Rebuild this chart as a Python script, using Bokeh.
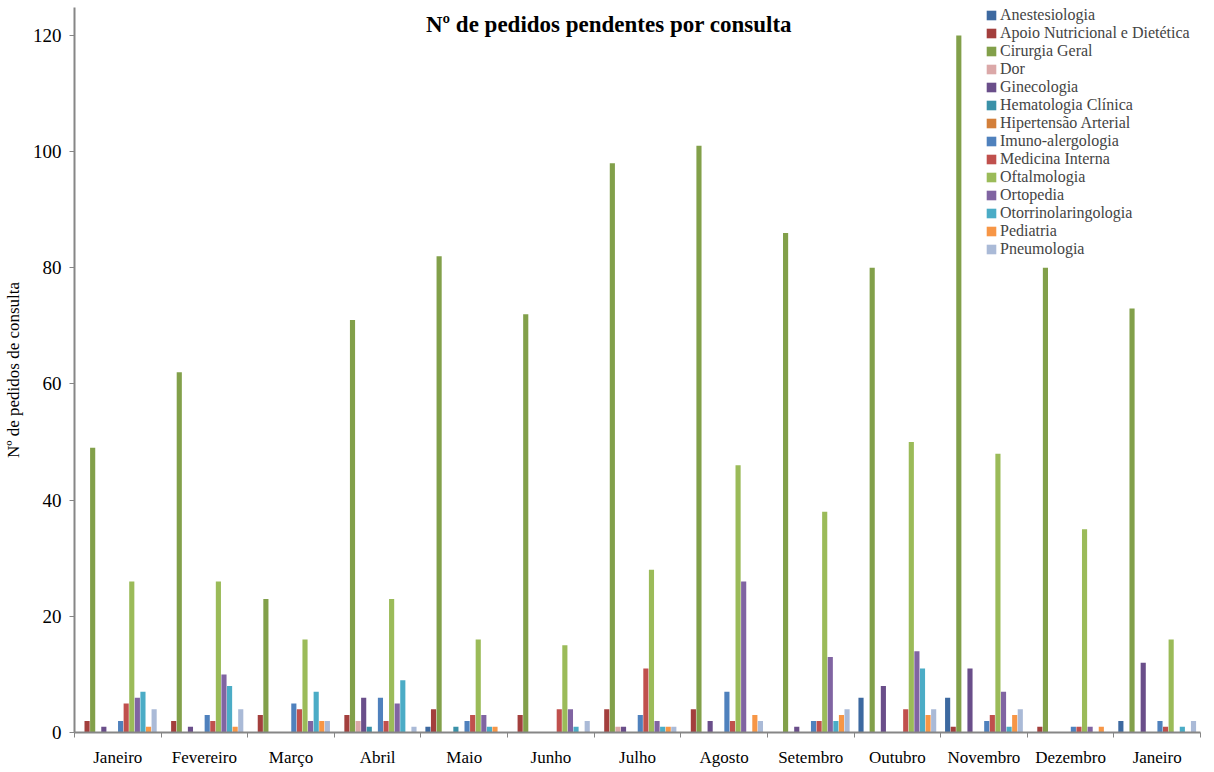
from bokeh.plotting import figure
from bokeh.models import ColumnDataSource, FixedTicker, Legend, LegendItem, Label
from bokeh.transform import dodge
from bokeh.embed import file_html
from bokeh.resources import INLINE

months = ["Janeiro", "Fevereiro", "Março", "Abril", "Maio", "Junho", "Julho",
          "Agosto", "Setembro", "Outubro", "Novembro", "Dezembro", "Janeiro"]

series = ["Anestesiologia", "Apoio Nutricional e Dietética", "Cirurgia Geral", "Dor",
          "Ginecologia", "Hematologia Clínica", "Hipertensão Arterial", "Imuno-alergologia",
          "Medicina Interna", "Oftalmologia", "Ortopedia", "Otorrinolaringologia",
          "Pediatria", "Pneumologia"]

colors = ["#3D69A0", "#A33F3D", "#82A04A", "#DBA8A8", "#6A4E8A", "#3A91A8", "#D37F3A",
          "#4F81BD", "#C0504D", "#9BBB59", "#8064A2", "#4BACC6", "#F79646", "#AABAD7"]

anestesiologia = [0, 0, 0, 0, 1, 0, 0, 0, 0, 6, 6, 0, 2]
apoio          = [2, 2, 3, 3, 4, 3, 4, 4, 0, 0, 1, 1, 0]
cirurgia       = [49, 62, 23, 71, 82, 72, 98, 101, 86, 80, 120, 80, 73]
dor            = [0, 0, 0, 2, 0, 0, 1, 0, 0, 0, 0, 0, 0]
ginecologia    = [1, 1, 0, 6, 0, 0, 1, 2, 1, 8, 11, 0, 12]
hematologia    = [0, 0, 0, 1, 1, 0, 0, 0, 0, 0, 0, 0, 0]
hipertensao    = [0, 0, 0, 0, 0, 0, 0, 0, 0, 0, 0, 0, 0]
imuno          = [2, 3, 5, 6, 2, 0, 3, 7, 2, 0, 2, 1, 2]
medicina       = [5, 2, 4, 2, 3, 4, 11, 2, 2, 4, 3, 1, 1]
oftalmologia   = [26, 26, 16, 23, 16, 15, 28, 46, 38, 50, 48, 35, 16]
ortopedia      = [6, 10, 2, 5, 3, 4, 2, 26, 13, 14, 7, 1, 0]
otorrino       = [7, 8, 7, 9, 1, 1, 1, 0, 2, 11, 1, 0, 1]
pediatria      = [1, 1, 2, 0, 1, 0, 1, 3, 3, 3, 3, 1, 0]
pneumologia    = [4, 4, 2, 1, 0, 2, 1, 2, 4, 4, 4, 0, 2]

values = [anestesiologia, apoio, cirurgia, dor, ginecologia, hematologia, hipertensao,
          imuno, medicina, oftalmologia, ortopedia, otorrino, pediatria, pneumologia]

FONT = "Liberation Serif"
n = len(months)
centers = [i + 0.5 for i in range(n)]

data = {"x": centers}
for k, v in enumerate(values):
    data[f"s{k}"] = v
source = ColumnDataSource(data)

p = figure(frame_width=1126, frame_height=725, x_range=(0, n), y_range=(0, 124.8),
           output_backend="svg", toolbar_location=None,
           min_border_left=71, min_border_right=1, min_border_top=7, min_border_bottom=0)
p.outline_line_color = None
p.xgrid.visible = False
p.ygrid.visible = False
p.background_fill_color = "white"

bw = 1.0 / 15.5
items = []
for k, name in enumerate(series):
    r = p.vbar(x=dodge("x", (k - 6.5) * bw, range=p.x_range), top=f"s{k}", width=bw * 0.92,
               source=source, fill_color=colors[k], line_color=None)
    items.append(LegendItem(label=name, renderers=[r]))

# Axes
p.xaxis.ticker = FixedTicker(ticks=centers, minor_ticks=list(range(n + 1)))
p.xaxis.major_label_overrides = {c: m for c, m in zip(centers, months)}
p.xaxis.major_tick_line_color = None
p.xaxis.major_tick_out = 5
p.xaxis.major_tick_in = 0
p.xaxis.minor_tick_out = 5
p.xaxis.minor_tick_in = 0
p.xaxis.minor_tick_line_color = "#868686"
p.xaxis.axis_line_color = "#868686"
p.xaxis.axis_line_width = 2
p.xaxis.major_label_text_font = FONT
p.xaxis.major_label_text_font_size = "17px"
p.xaxis.major_label_text_color = "black"
p.xaxis.major_label_standoff = 10

p.yaxis.ticker = FixedTicker(ticks=[0, 20, 40, 60, 80, 100, 120])
p.yaxis.minor_tick_line_color = None
p.yaxis.major_tick_out = 5
p.yaxis.major_tick_in = 0
p.yaxis.major_tick_line_color = "#868686"
p.yaxis.axis_line_color = "#868686"
p.yaxis.axis_line_width = 2
p.yaxis.major_label_text_font = FONT
p.yaxis.major_label_text_font_size = "19px"
p.yaxis.major_label_text_color = "black"
p.yaxis.major_label_standoff = 8
p.yaxis.axis_label = "Nº de pedidos de consulta"
p.yaxis.axis_label_text_font = FONT
p.yaxis.axis_label_text_font_size = "17px"
p.yaxis.axis_label_text_font_style = "normal"
p.yaxis.axis_label_text_color = "black"
p.yaxis.axis_label_standoff = 7

# Title inside plot area
title = Label(x=6.17, y=121.9, text="Nº de pedidos pendentes por consulta",
              text_font=FONT, text_font_size="23px", text_font_style="bold",
              text_align="center", text_baseline="middle", text_color="black")
p.add_layout(title)

legend = Legend(items=items, location=(911, 474), padding=0, margin=0, spacing=0,
                glyph_width=12, glyph_height=12, label_height=12,
                label_text_font=FONT, label_text_font_size="16px",
                label_standoff=3, border_line_color=None, background_fill_alpha=0)
p.add_layout(legend, "center")

open("out.html", "w").write(file_html(p, INLINE))
